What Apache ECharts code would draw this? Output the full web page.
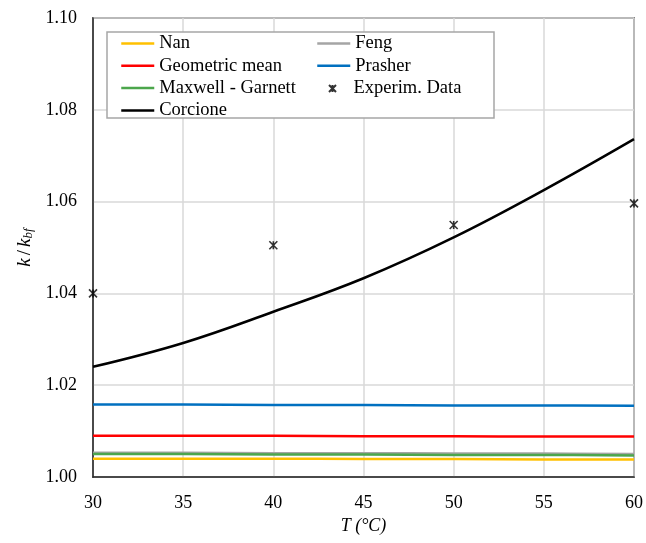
<!DOCTYPE html>
<html>
<head>
<meta charset="utf-8">
<script src="https://cdn.jsdelivr.net/npm/echarts@6/dist/echarts.min.js"></script>
<style>
  html, body { margin: 0; padding: 0; background: #fff; }
  #main { width: 646px; height: 543px; }
</style>
</head>
<body>
<div id="main"></div>
<script>
// temperatura (°C)
var temps = [30, 35, 40, 45, 50, 55, 60];
// modelli
var nanK = [1.0040, 1.0040, 1.0040, 1.0039, 1.0039, 1.0038, 1.0038];
var fengK = [1.0053, 1.0053, 1.0052, 1.0052, 1.0051, 1.0051, 1.0050];
var geoK = [1.0090, 1.0090, 1.0090, 1.0089, 1.0089, 1.0088, 1.0088];
var prasherK = [1.0158, 1.0158, 1.0157, 1.0157, 1.0156, 1.0156, 1.0155];
var maxwellK = [1.0050, 1.0050, 1.0049, 1.0049, 1.0048, 1.0048, 1.0047];
var corcioneK = [1.0240, 1.0292, 1.0360, 1.0433, 1.0522, 1.0625, 1.0736];
// dati sperimentali
var expT = [30, 40, 50, 60];
var expK = [1.0400, 1.0505, 1.0549, 1.0596];

function pairs(xs, ys) {
  return xs.map(function (x, i) { return [x, ys[i]]; });
}

var font = 'Liberation Serif';

function lineSeries(name, ys, color) {
  return {
    name: name,
    type: 'line',
    data: pairs(temps, ys),
    showSymbol: false,
    symbol: 'none',
    smooth: 0.4,
    lineStyle: { color: color, width: 2.5 },
    itemStyle: { color: color },
    emphasis: { disabled: true }
  };
}

var star = 'path://M0,0L10,10M10,0L0,10M5,0L5,10';

var legendText = { fontFamily: font, fontSize: 18.5, color: '#000', lineHeight: 19 };

var chart = echarts.init(document.getElementById('main'));
var option = {
  animation: false,
  backgroundColor: '#fff',
  textStyle: { fontFamily: font },
  grid: {
    left: 93, right: 10, top: 18, bottom: 66,
    show: true, borderColor: '#262626', borderWidth: 1.5
  },
  graphic: [{
    type: 'rect',
    z: 3,
    shape: { x: 107, y: 32, width: 387, height: 86 },
    style: { fill: '#fff', stroke: '#a6a6a6', lineWidth: 1.5 }
  }],
  legend: [
    {
      left: 120, top: 34, orient: 'vertical', padding: 0,
      itemWidth: 33, itemHeight: 17, itemGap: 3.3,
      itemStyle: { opacity: 0 },
      lineStyle: { width: 2.5 },
      textStyle: legendText,
      data: ['Nan', 'Geometric mean', 'Maxwell - Garnett', 'Corcione']
    },
    {
      left: 316, top: 34, orient: 'vertical', padding: 0,
      itemWidth: 33, itemHeight: 17, itemGap: 3.3,
      itemStyle: { opacity: 0 },
      lineStyle: { width: 2.5 },
      textStyle: legendText,
      data: ['Feng', 'Prasher']
    },
    {
      left: 328, top: 79, orient: 'vertical', padding: 0,
      itemWidth: 8, itemHeight: 7,
      textStyle: Object.assign({ padding: [0, 0, 0, 12] }, legendText),
      data: [{ name: 'Experim. Data', icon: star }]
    }
  ],
  xAxis: {
    type: 'value', min: 30, max: 60, interval: 5,
    name: 'T (°C)', nameLocation: 'middle', nameGap: 40,
    nameTextStyle: { fontFamily: font, fontSize: 18, fontStyle: 'italic', color: '#000' },
    axisLine: { lineStyle: { color: '#262626', width: 1.5 } },
    axisTick: { show: false },
    axisLabel: { fontFamily: font, fontSize: 18, color: '#000', margin: 17 },
    splitLine: { lineStyle: { color: '#d9d9d9', width: 1.5 } }
  },
  yAxis: {
    type: 'value', min: 1.00, max: 1.10, interval: 0.02,
    name: '{i|k} {n|/} {i|k}{sub|bf}', nameLocation: 'middle', nameGap: 52,
    nameTextStyle: {
      color: '#000',
      rich: {
        i: { fontFamily: font, fontSize: 19, fontStyle: 'italic', color: '#000', lineHeight: 20, verticalAlign: 'middle' },
        n: { fontFamily: font, fontSize: 19, color: '#000', lineHeight: 20, verticalAlign: 'middle' },
        sub: { fontFamily: font, fontSize: 13, fontStyle: 'italic', color: '#000', lineHeight: 10, verticalAlign: 'bottom' }
      }
    },
    axisLine: { show: true, lineStyle: { color: '#262626', width: 1.5 } },
    axisTick: { show: false },
    axisLabel: {
      fontFamily: font, fontSize: 18, color: '#000', margin: 16,
      formatter: function (v) { return v.toFixed(2); }
    },
    splitLine: { lineStyle: { color: '#d9d9d9', width: 1.5 } }
  },
  series: [
    lineSeries('Nan', nanK, '#FFC000'),
    lineSeries('Feng', fengK, '#A5A5A5'),
    lineSeries('Geometric mean', geoK, '#FF0000'),
    lineSeries('Prasher', prasherK, '#0070C0'),
    lineSeries('Maxwell - Garnett', maxwellK, '#4CA64C'),
    {
      name: 'Experim. Data',
      type: 'scatter',
      data: pairs(expT, expK),
      symbol: star,
      symbolSize: 8,
      clip: false,
      itemStyle: { color: 'rgba(0,0,0,0)', borderColor: '#000', borderWidth: 1.6 },
      emphasis: { disabled: true },
      z: 5
    },
    lineSeries('Corcione', corcioneK, '#000000')
  ]
};
chart.setOption(option);
</script>
</body>
</html>
